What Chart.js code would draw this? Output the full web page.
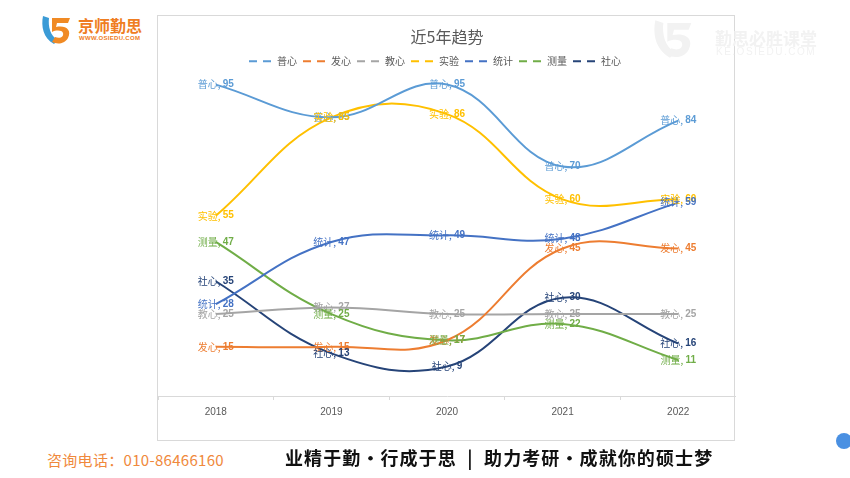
<!DOCTYPE html>
<html>
<head>
<meta charset="utf-8">
<script src="https://cdn.jsdelivr.net/npm/chart.js@4.4.0/dist/chart.umd.min.js"></script>
<style>
  html, body { margin: 0; padding: 0; background: #fff; width: 850px; height: 478px; overflow: hidden; position: relative; font-family: "Noto Sans CJK SC", sans-serif; }
  #frame { position: absolute; left: 157px; top: 15px; width: 578px; height: 426px; border: 1px solid #d9d9d9; box-sizing: border-box; background: #fff; }
  #frame canvas { position: absolute; left: 0; top: 0; }
  #logo { position: absolute; left: 40px; top: 12px; }
  #logoText { position: absolute; left: 78px; top: 13px; color: #ef7d22; font-size: 16px; font-weight: bold; white-space: nowrap; }
  #logoUrl { position: absolute; left: 79px; top: 35px; color: #ef7d22; font-size: 6px; font-family: "Liberation Sans", sans-serif; font-weight: bold; letter-spacing: 0.3px; white-space: nowrap; }
  #wmIcon { position: absolute; left: 650px; top: 15px; }
  #wm1 { position: absolute; left: 715px; top: 25px; color: #f2f2f2; font-size: 17px; font-weight: bold; white-space: nowrap; }
  #wm2 { position: absolute; left: 716px; top: 46px; color: #f2f2f2; font-size: 10px; font-family: "Liberation Sans", sans-serif; letter-spacing: 1.5px; white-space: nowrap; }
  #phone { position: absolute; left: 47px; top: 449px; color: #f0893c; font-size: 15px; letter-spacing: 0.3px; font-family: "Liberation Sans Narrow", "Noto Sans CJK SC", sans-serif; white-space: nowrap; }
  #slogan { position: absolute; left: 285px; top: 444px; color: #111; font-size: 18px; font-weight: bold; white-space: nowrap; letter-spacing: 1.1px; }
  #dot { position: absolute; left: 836px; top: 433px; width: 16px; height: 16px; border-radius: 50%; background: #4a90e2; }
</style>
</head>
<body>
<svg id="logo" width="40" height="36" viewBox="0 0 40 36">
  <path d="M3 4 C1 14, 3 26, 14 32 L18 28 C10 24, 8 14, 9 6 Z" fill="#3b9bd6"/>
  <path d="M12 6 L30 6 L28 11 L17 11 L16 15 C26 13, 32 18, 28 26 C24 33, 16 32, 12 30 L15 25 C20 27, 24 25, 23 21 C22 18, 16 18, 12 20 Z" fill="#f08a24"/>
</svg>
<div id="logoText">京师勤思</div>
<div id="logoUrl">WWW.OSIEDU.COM</div>
<div id="frame"><canvas id="c" width="578" height="426"></canvas></div>
<svg id="wmIcon" width="56" height="48" viewBox="0 0 40 36">
  <path d="M3 4 C1 14, 3 26, 14 32 L18 28 C10 24, 8 14, 9 6 Z" fill="#f2f2f2"/>
  <path d="M12 6 L30 6 L28 11 L17 11 L16 15 C26 13, 32 18, 28 26 C24 33, 16 32, 12 30 L15 25 C20 27, 24 25, 23 21 C22 18, 16 18, 12 20 Z" fill="#f2f2f2"/>
</svg>
<div id="wm1">勤思必胜课堂</div>
<div id="wm2">KE.OSIEDU.COM</div>
<div id="phone">咨询电话：010-86466160</div>
<div id="slogan">业精于勤·行成于思 &nbsp;|&nbsp; 助力考研·成就你的硕士梦</div>
<div id="dot"></div>
<script>
const years = ["2018", "2019", "2020", "2021", "2022"];
const seriesNames = ["普心", "发心", "教心", "实验", "统计", "测量", "社心"];
const puxin   = [95, 85, 95, 70, 84];
const faxin   = [15, 15, 17, 45, 45];
const jiaoxin = [25, 27, 25, 25, 25];
const shiyan  = [55, 85, 86, 60, 60];
const tongji  = [28, 47, 49, 48, 59];
const celiang = [47, 25, 17, 22, 11];
const shexin  = [35, 13, 9, 30, 16];
const seriesValues = [puxin, faxin, jiaoxin, shiyan, tongji, celiang, shexin];
const seriesColors = ["#5B9BD5", "#ED7D31", "#A5A5A5", "#FFC000", "#4472C4", "#70AD47", "#264478"];

const labelPlugin = {
  id: 'pointLabels',
  afterLayout(chart) {
    if (chart.legend) { chart.legend.left -= 12; chart.legend.right -= 12; }
  },
  afterDatasetsDraw(chart) {
    const ctx = chart.ctx;
    ctx.save();
    ctx.textBaseline = 'middle';
    chart.data.datasets.forEach((ds, i) => {
      const meta = chart.getDatasetMeta(i);
      if (meta.hidden) return;
      meta.data.forEach((pt, j) => {
        const name = ds.label + ', ';
        const val = String(ds.data[j]);
        ctx.font = '10px "Noto Sans CJK SC", sans-serif';
        const w1 = ctx.measureText(name).width;
        ctx.font = 'bold 10px "Liberation Sans", sans-serif';
        const w2 = ctx.measureText(val).width;
        const x0 = pt.x - (w1 + w2) / 2;
        ctx.fillStyle = ds.borderColor;
        ctx.textAlign = 'left';
        ctx.font = '10px "Noto Sans CJK SC", sans-serif';
        ctx.fillText(name, x0, pt.y);
        ctx.font = 'bold 10px "Liberation Sans", sans-serif';
        ctx.fillText(val, x0 + w1, pt.y);
      });
    });
    ctx.restore();
  }
};

const datasets = seriesNames.map((n, i) => ({
  label: n,
  data: seriesValues[i],
  borderColor: seriesColors[i],
  backgroundColor: seriesColors[i],
  borderWidth: 2,
  pointRadius: 0,
  tension: 0.4,
  fill: false
}));

new Chart(document.getElementById('c'), {
  type: 'line',
  data: { labels: years, datasets },
  plugins: [labelPlugin],
  options: {
    responsive: false,
    animation: false,
    layout: { padding: { top: 1, bottom: 18, left: 0, right: 0 } },
    plugins: {
      title: {
        display: true,
        text: '近5年趋势',
        color: '#595959',
        font: { size: 16, family: '"Noto Sans CJK SC", sans-serif', weight: 'normal' },
        padding: { top: 10, bottom: 4 }
      },
      legend: {
        display: true,
        position: 'top',
        maxHeight: 18,
        labels: {
          color: '#595959',
          font: { size: 10, family: '"Noto Sans CJK SC", sans-serif' },
          usePointStyle: true,
          pointStyle: 'line',
          pointStyleWidth: 23,
          padding: 6,
          generateLabels(chart) {
            const items = Chart.defaults.plugins.legend.labels.generateLabels(chart);
            items.forEach(it => { it.lineDash = [8, 6]; it.lineWidth = 2; it.pointStyle = 'line'; });
            return items;
          }
        }
      },
      tooltip: { enabled: false }
    },
    scales: {
      x: {
        offset: true,
        grid: { display: true, drawOnChartArea: false, offset: true, tickLength: 4, color: '#d9d9d9' },
        border: { display: true, color: '#d9d9d9' },
        ticks: { color: '#595959', font: { size: 10, family: '"Liberation Sans", sans-serif' }, padding: 6 }
      },
      y: {
        display: false,
        min: 0,
        max: 100
      }
    }
  }
});
</script>
</body>
</html>
